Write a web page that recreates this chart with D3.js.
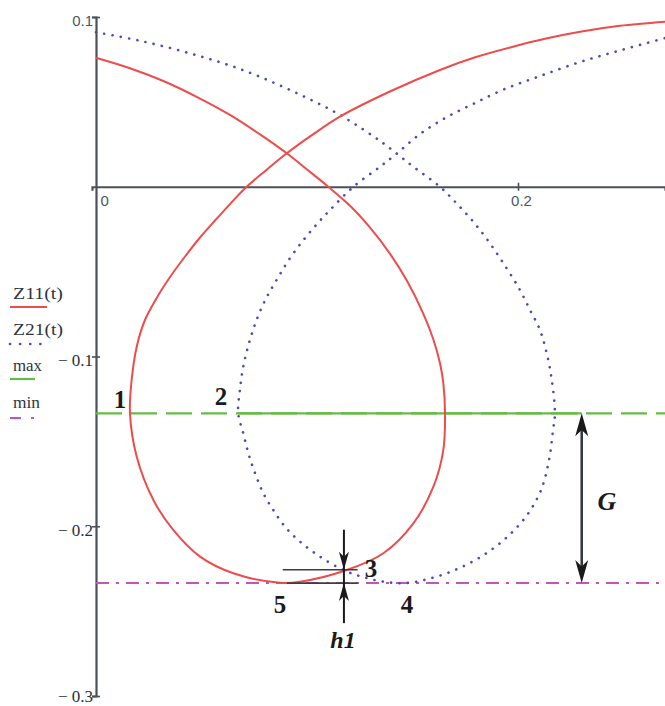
<!DOCTYPE html>
<html>
<head>
<meta charset="utf-8">
<script src="https://cdn.jsdelivr.net/npm/d3@7"></script>
<style>
  html, body { margin: 0; padding: 0; background: #fff; }
  svg { display: block; }
</style>
</head>
<body>
<svg id="chart" width="665" height="706"></svg>
<script>
// Trajectories of the two contact points, as [x, y] pairs
const z11 = [
  [0.0000, 0.0760], [0.0161, 0.0698], [0.0319, 0.0623], [0.0477, 0.0530],
  [0.0635, 0.0423], [0.0793, 0.0295], [0.0904, 0.0197], [0.0999, 0.0103],
  [0.1101, 0.0000], [0.1204, -0.0112], [0.1299, -0.0241], [0.1393, -0.0394],
  [0.1473, -0.0552], [0.1551, -0.0747], [0.1599, -0.0900], [0.1630, -0.1038],
  [0.1646, -0.1155], [0.1654, -0.1335], [0.1646, -0.1551], [0.1599, -0.1767],
  [0.1504, -0.1983], [0.1362, -0.2159], [0.1188, -0.2258], [0.0967, -0.2327],
  [0.0872, -0.2333], [0.0651, -0.2277], [0.0493, -0.2179], [0.0366, -0.2022],
  [0.0272, -0.1845], [0.0193, -0.1590], [0.0161, -0.1335], [0.0169, -0.1138],
  [0.0193, -0.0942], [0.0232, -0.0785], [0.0289, -0.0652], [0.0351, -0.0532],
  [0.0422, -0.0411], [0.0493, -0.0299], [0.0564, -0.0199], [0.0635, -0.0102],
  [0.0714, 0.0000], [0.0809, 0.0100], [0.0904, 0.0197], [0.1030, 0.0310],
  [0.1156, 0.0413], [0.1393, 0.0561], [0.1630, 0.0688], [0.1801, 0.0764],
  [0.1976, 0.0825], [0.2133, 0.0873], [0.2294, 0.0913], [0.2483, 0.0948],
  [0.2697, 0.0972]
];
const z21 = [
  [0.0000, 0.0910], [0.0209, 0.0860], [0.0445, 0.0786], [0.0682, 0.0694],
  [0.0919, 0.0570], [0.1156, 0.0423], [0.1362, 0.0256], [0.1425, 0.0195],
  [0.1504, 0.0118], [0.1630, 0.0000], [0.1709, -0.0098], [0.1788, -0.0206],
  [0.1867, -0.0333], [0.1946, -0.0480], [0.2009, -0.0608], [0.2057, -0.0726],
  [0.2104, -0.0844], [0.2136, -0.0981], [0.2160, -0.1138], [0.2175, -0.1335],
  [0.2166, -0.1433], [0.2147, -0.1610], [0.2109, -0.1787], [0.2043, -0.1934],
  [0.1948, -0.2064], [0.1829, -0.2176], [0.1701, -0.2258], [0.1573, -0.2311],
  [0.1464, -0.2335], [0.1360, -0.2326], [0.1265, -0.2299], [0.1172, -0.2258],
  [0.1062, -0.2179], [0.0967, -0.2091], [0.0896, -0.2003], [0.0840, -0.1904],
  [0.0793, -0.1806], [0.0754, -0.1688], [0.0722, -0.1570], [0.0698, -0.1452],
  [0.0674, -0.1335], [0.0682, -0.1197], [0.0698, -0.1060], [0.0725, -0.0922],
  [0.0761, -0.0785], [0.0804, -0.0663], [0.0856, -0.0549], [0.0916, -0.0427],
  [0.0983, -0.0314], [0.1046, -0.0221], [0.1109, -0.0137], [0.1220, 0.0000],
  [0.1346, 0.0118], [0.1425, 0.0195], [0.1536, 0.0311], [0.1664, 0.0411],
  [0.1796, 0.0493], [0.1938, 0.0576], [0.2104, 0.0652], [0.2294, 0.0735],
  [0.2483, 0.0803], [0.2697, 0.0876]
];
// Horizontal reference levels
const maxLevel = -0.1335;
const minLevel = -0.2335;
// Point 3 (where both curves meet above the minimum)
const point3 = [0.1175, -0.2256];

const yTicks = [0.1, -0.1, -0.2, -0.3];
const yTickLabels = ["0.1", "\u2212 0.1", "\u2212 0.2", "\u2212 0.3"];
const xTicks = [0, 0.2];
const xTickLabels = ["0", "0.2"];

const legendNames = ["Z11(t)", "Z21(t)", "max", "min"];

const colors = {
  z11: "#ee4c4c",
  z21: "#4a4ab6",
  max: "#66bb46",
  min: "#c255b8",
  axis: "#4b5157",
  ink: "#1a1a1a"
};

const svg = d3.select("#chart");

const x = d3.scaleLinear().domain([0, 0.2]).range([96, 518]);
const y = d3.scaleLinear().domain([-0.3, 0.1]).range([696, 17]);
const W = 665;

// ---- axes ----
const xAxisScale = x.copy().domain([x.invert(92), x.invert(W)]).range([92, W]);
const xAxis = svg.append("g")
  .attr("transform", `translate(0,${y(0)})`)
  .call(d3.axisBottom(xAxisScale).tickValues(xTicks).tickSizeOuter(0).tickSize(4)
    .tickFormat((d, i) => xTickLabels[i]));
xAxis.select(".domain").attr("stroke", colors.axis).attr("stroke-width", 2.2);
xAxis.selectAll(".tick line").attr("y1", -4).attr("y2", 4)
  .attr("stroke", colors.axis).attr("stroke-width", 1.6)
  .attr("display", d => d === 0 ? "none" : null);
xAxis.selectAll(".tick text")
  .attr("fill", "#485868")
  .attr("font-family", "'Liberation Sans', Arial, sans-serif")
  .attr("font-size", 15)
  .attr("y", 9)
  .attr("dy", "0.71em")
  .attr("text-anchor", d => d === 0 ? "start" : "middle")
  .attr("dx", d => d === 0 ? 4 : 3);

const yAxis = svg.append("g")
  .attr("transform", `translate(${x(0)},0)`)
  .call(d3.axisLeft(y).tickValues(yTicks).tickSizeOuter(0).tickSize(4)
    .tickFormat((d, i) => yTickLabels[i]));
yAxis.select(".domain").attr("stroke", colors.axis).attr("stroke-width", 2.2);
yAxis.selectAll(".tick line").attr("x1", -4).attr("x2", 4)
  .attr("stroke", colors.axis).attr("stroke-width", 1.6);
yAxis.selectAll(".tick text")
  .attr("x", -3)
  .attr("dy", d => d < -0.25 ? "0.3em" : "0.55em")
  .attr("fill", d => d > 0 ? "#485868" : "#2b2f33")
  .attr("font-family", d => d > 0 ? "'Liberation Sans', Arial, sans-serif" : "'Liberation Serif', 'Times New Roman', serif")
  .attr("font-size", d => d > 0 ? 15 : 17);

// ---- reference levels ----
svg.append("line")
  .attr("x1", x(0)).attr("x2", W)
  .attr("y1", y(maxLevel)).attr("y2", y(maxLevel))
  .attr("stroke", colors.max).attr("stroke-width", 2.2)
  .attr("stroke-dasharray", "26,9");
svg.append("line")
  .attr("x1", x(0.0674)).attr("x2", x(0.2302))
  .attr("y1", y(maxLevel)).attr("y2", y(maxLevel))
  .attr("stroke", colors.max).attr("stroke-width", 2.2);

svg.append("line")
  .attr("x1", x(0)).attr("x2", W)
  .attr("y1", y(minLevel)).attr("y2", y(minLevel))
  .attr("stroke", colors.min).attr("stroke-width", 2)
  .attr("stroke-dasharray", "13,7,3,7");

// ---- curves ----
const line = d3.line()
  .x(d => x(d[0])).y(d => y(d[1]))
  .curve(d3.curveCatmullRom.alpha(0.5));

svg.append("path").datum(z21)
  .attr("d", line)
  .attr("fill", "none")
  .attr("stroke", colors.z21)
  .attr("stroke-width", 2.6)
  .attr("stroke-linecap", "round")
  .attr("stroke-dasharray", "0.1,8.3");

svg.append("path").datum(z11)
  .attr("d", line)
  .attr("fill", "none")
  .attr("stroke", colors.z11)
  .attr("stroke-width", 2);

// ---- annotations ----
function arrowHead(px, py, dir, len, w) {
  // dir = +1 points down, -1 points up
  const by = py - dir * len;
  const ny = py - dir * len * 0.72;
  svg.append("path")
    .attr("d", `M${px},${py} L${px - w / 2},${by} L${px},${ny} L${px + w / 2},${by} Z`)
    .attr("fill", colors.ink);
}

// G: distance between max and min levels
const gx = x(0.2302);
svg.append("line")
  .attr("x1", gx).attr("x2", gx)
  .attr("y1", y(maxLevel) + 12).attr("y2", y(minLevel) - 12)
  .attr("stroke", "#333a40").attr("stroke-width", 2.6);
arrowHead(gx, y(maxLevel), -1, 23, 13);
arrowHead(gx, y(minLevel), 1, 23, 13);

// h1: gap between point 3 and the minimum level
const hx = x(point3[0]);
svg.append("line")
  .attr("x1", x(0.0885)).attr("x2", x(0.1240))
  .attr("y1", y(point3[1])).attr("y2", y(point3[1]))
  .attr("stroke", "#3a3f44").attr("stroke-width", 1.6);
svg.append("line")
  .attr("x1", x(0.0905)).attr("x2", x(0.1240))
  .attr("y1", y(minLevel)).attr("y2", y(minLevel))
  .attr("stroke", "#3a3f44").attr("stroke-width", 1.6);
svg.append("line")
  .attr("x1", hx).attr("x2", hx)
  .attr("y1", y(point3[1]) - 40).attr("y2", y(minLevel) + 40)
  .attr("stroke", colors.ink).attr("stroke-width", 2);
arrowHead(hx, y(point3[1]), 1, 18, 10);
arrowHead(hx, y(minLevel), -1, 18, 10);

const marks = [
  { t: "1", px: 120, py: 408 },
  { t: "2", px: 221, py: 405 },
  { t: "3", px: 371, py: 577 },
  { t: "4", px: 407, py: 613 },
  { t: "5", px: 280, py: 613 }
];
svg.selectAll("text.mark").data(marks).enter().append("text")
  .attr("class", "mark")
  .attr("x", d => d.px).attr("y", d => d.py)
  .attr("text-anchor", "middle")
  .attr("font-family", "'Liberation Serif', 'Times New Roman', serif")
  .attr("font-weight", "bold")
  .attr("font-size", 25)
  .attr("fill", colors.ink)
  .text(d => d.t);

svg.append("text")
  .attr("x", 607).attr("y", 510)
  .attr("text-anchor", "middle")
  .attr("font-family", "'Liberation Serif', 'Times New Roman', serif")
  .attr("font-weight", "bold").attr("font-style", "italic")
  .attr("font-size", 26)
  .attr("fill", colors.ink)
  .text("G");

svg.append("text")
  .attr("x", 343).attr("y", 648)
  .attr("text-anchor", "middle")
  .attr("font-family", "'Liberation Serif', 'Times New Roman', serif")
  .attr("font-weight", "bold").attr("font-style", "italic")
  .attr("font-size", 24)
  .attr("fill", colors.ink)
  .text("h1");

// ---- legend ----
const legend = svg.append("g");
const legendRows = [
  { ty: 299, tl: 50 },
  { ty: 335, tl: 50 },
  { ty: 371, tl: 29 },
  { ty: 408, tl: 27 }
];
legendRows.forEach((r, i) => {
  legend.append("text")
    .attr("x", 13).attr("y", r.ty)
    .attr("textLength", r.tl).attr("lengthAdjust", "spacingAndGlyphs")
    .attr("font-family", "'Liberation Serif', 'Times New Roman', serif")
    .attr("font-size", 17)
    .attr("fill", "#2d3640")
    .text(legendNames[i]);
});
legend.append("line").attr("x1", 10).attr("x2", 47).attr("y1", 307).attr("y2", 307)
  .attr("stroke", colors.z11).attr("stroke-width", 2);
legend.append("line").attr("x1", 10).attr("x2", 42).attr("y1", 344).attr("y2", 344)
  .attr("stroke", colors.z21).attr("stroke-width", 2.6)
  .attr("stroke-linecap", "round").attr("stroke-dasharray", "0.1,10");
legend.append("line").attr("x1", 10).attr("x2", 35).attr("y1", 379).attr("y2", 379)
  .attr("stroke", colors.max).attr("stroke-width", 2.2);
legend.append("line").attr("x1", 10).attr("x2", 40).attr("y1", 418).attr("y2", 418)
  .attr("stroke", colors.min).attr("stroke-width", 2)
  .attr("stroke-dasharray", "11,10,3,20");
</script>
</body>
</html>
